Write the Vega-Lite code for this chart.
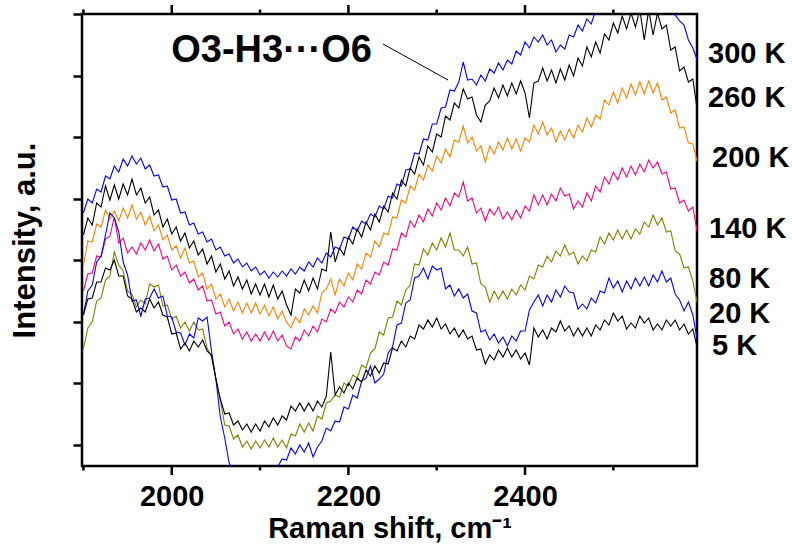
{
  "$schema": "https://vega.github.io/schema/vega-lite/v6.json",
  "width": 615,
  "height": 452,
  "autosize": {"type": "none"},
  "padding": {"left": 82, "top": 14, "right": 95, "bottom": 79},
  "background": "white",
  "config": {
    "view": {"stroke": "black", "strokeWidth": 2.5},
    "font": "Liberation Sans"
  },
  "datasets": {
    "spectra": [
      {"x":1900,"k300":252,"k260":230,"k200":200,"k140":174,"k80":116,"k20":150,"k5":150},
      {"x":1905,"k300":266,"k260":247,"k200":224,"k140":191,"k80":137,"k20":174,"k5":166},
      {"x":1910,"k300":262,"k260":240,"k200":223,"k140":192,"k80":143,"k20":180,"k5":167},
      {"x":1915,"k300":276,"k260":262,"k200":241,"k140":209,"k80":164,"k20":203,"k5":183},
      {"x":1920,"k300":273,"k260":258,"k200":238,"k140":208,"k80":167,"k20":209,"k5":183},
      {"x":1925,"k300":289,"k260":279,"k200":255,"k140":226,"k80":185,"k20":230,"k5":197},
      {"x":1930,"k300":286,"k260":265,"k200":246,"k140":229,"k80":189,"k20":252,"k5":195},
      {"x":1935,"k300":299,"k260":280,"k200":254,"k140":248,"k80":213,"k20":247,"k5":205},
      {"x":1940,"k300":293,"k260":266,"k200":244,"k140":222,"k80":200,"k20":233,"k5":189},
      {"x":1945,"k300":306,"k260":281,"k200":257,"k140":227,"k80":194,"k20":203,"k5":189},
      {"x":1950,"k300":299,"k260":270,"k200":247,"k140":212,"k80":174,"k20":190,"k5":169},
      {"x":1955,"k300":309,"k260":286,"k200":260,"k140":218,"k80":171,"k20":164,"k5":166},
      {"x":1960,"k300":301,"k260":270,"k200":246,"k140":211,"k80":158,"k20":165,"k5":153},
      {"x":1965,"k300":307,"k260":277,"k200":253,"k140":222,"k80":165,"k20":149,"k5":157},
      {"x":1970,"k300":296,"k260":262,"k200":240,"k140":215,"k80":161,"k20":166,"k5":153},
      {"x":1975,"k300":300,"k260":268,"k200":249,"k140":225,"k80":181,"k20":167,"k5":166},
      {"x":1980,"k300":289,"k260":250,"k200":234,"k140":214,"k80":178,"k20":176,"k5":157},
      {"x":1985,"k300":290,"k260":255,"k200":240,"k140":221,"k80":180,"k20":167,"k5":163},
      {"x":1990,"k300":278,"k260":238,"k200":225,"k140":206,"k80":159,"k20":169,"k5":150},
      {"x":1995,"k300":279,"k260":246,"k200":230,"k140":209,"k80":160,"k20":149,"k5":148},
      {"x":2000,"k300":265,"k260":231,"k200":215,"k140":195,"k80":146,"k20":148,"k5":131},
      {"x":2005,"k300":266,"k260":238,"k200":219,"k140":200,"k80":149,"k20":133,"k5":132},
      {"x":2010,"k300":252,"k260":224,"k200":207,"k140":189,"k80":137,"k20":132,"k5":116},
      {"x":2015,"k300":253,"k260":232,"k200":217,"k140":193,"k80":143,"k20":120,"k5":122},
      {"x":2020,"k300":240,"k260":217,"k200":202,"k140":182,"k80":134,"k20":131,"k5":114},
      {"x":2025,"k300":242,"k260":224,"k200":204,"k140":186,"k80":143,"k20":127,"k5":124},
      {"x":2030,"k300":231,"k260":210,"k200":188,"k140":175,"k80":135,"k20":147,"k5":118},
      {"x":2035,"k300":233,"k260":216,"k200":192,"k140":179,"k80":136,"k20":144,"k5":125},
      {"x":2040,"k300":223,"k260":201,"k200":176,"k140":164,"k80":117,"k20":148,"k5":114},
      {"x":2045,"k300":226,"k260":209,"k200":181,"k140":165,"k80":108,"k20":114,"k5":110},
      {"x":2050,"k300":215,"k260":193,"k200":166,"k140":151,"k80":86,"k20":86,"k5":86},
      {"x":2055,"k300":218,"k260":201,"k200":171,"k140":153,"k80":65,"k20":48,"k5":66},
      {"x":2060,"k300":209,"k260":186,"k200":158,"k140":139,"k80":40,"k20":27,"k5":51},
      {"x":2065,"k300":211,"k260":194,"k200":166,"k140":143,"k80":39,"k20":2,"k5":52},
      {"x":2070,"k300":202,"k260":179,"k200":154,"k140":131,"k80":26,"k20":-8,"k5":40},
      {"x":2075,"k300":206,"k260":188,"k200":163,"k140":136,"k80":30,"k20":-15,"k5":44},
      {"x":2080,"k300":198,"k260":176,"k200":152,"k140":126,"k80":18,"k20":-18,"k5":35},
      {"x":2085,"k300":202,"k260":185,"k200":162,"k140":133,"k80":24,"k20":-20,"k5":41},
      {"x":2090,"k300":194,"k260":171,"k200":152,"k140":124,"k80":16,"k20":-22,"k5":33},
      {"x":2095,"k300":198,"k260":181,"k200":162,"k140":131,"k80":24,"k20":-21,"k5":41},
      {"x":2100,"k300":190,"k260":170,"k200":151,"k140":124,"k80":17,"k20":-21,"k5":34},
      {"x":2105,"k300":194,"k260":181,"k200":160,"k140":133,"k80":25,"k20":-20,"k5":44},
      {"x":2110,"k300":187,"k260":168,"k200":149,"k140":125,"k80":18,"k20":-20,"k5":38},
      {"x":2115,"k300":193,"k260":180,"k200":158,"k140":134,"k80":27,"k20":-10,"k5":47},
      {"x":2120,"k300":188,"k260":166,"k200":146,"k140":124,"k80":18,"k20":-2,"k5":40},
      {"x":2125,"k300":194,"k260":174,"k200":154,"k140":130,"k80":25,"k20":6,"k5":49},
      {"x":2130,"k300":189,"k260":160,"k200":143,"k140":119,"k80":17,"k20":5,"k5":45},
      {"x":2135,"k300":196,"k260":150,"k200":137,"k140":116,"k80":31,"k20":17,"k5":59},
      {"x":2140,"k300":191,"k260":176,"k200":148,"k140":128,"k80":29,"k20":11,"k5":54},
      {"x":2145,"k300":198,"k260":172,"k200":142,"k140":124,"k80":41,"k20":20,"k5":62},
      {"x":2150,"k300":194,"k260":185,"k200":156,"k140":135,"k80":33,"k20":13,"k5":54},
      {"x":2155,"k300":203,"k260":174,"k200":150,"k140":129,"k80":42,"k20":22,"k5":62},
      {"x":2160,"k300":198,"k260":187,"k200":159,"k140":139,"k80":34,"k20":8,"k5":54},
      {"x":2165,"k300":207,"k260":176,"k200":152,"k140":133,"k80":49,"k20":18,"k5":64},
      {"x":2170,"k300":202,"k260":196,"k200":172,"k140":146,"k80":46,"k20":24,"k5":58},
      {"x":2175,"k300":212,"k260":194,"k200":176,"k140":143,"k80":62,"k20":37,"k5":69},
      {"x":2180,"k300":208,"k260":233,"k200":186,"k140":156,"k80":64,"k20":34,"k5":113},
      {"x":2185,"k300":218,"k260":203,"k200":170,"k140":152,"k80":70,"k20":44,"k5":70},
      {"x":2190,"k300":216,"k260":217,"k200":186,"k140":163,"k80":68,"k20":43,"k5":78},
      {"x":2195,"k300":228,"k260":210,"k200":179,"k140":158,"k80":82,"k20":58,"k5":72},
      {"x":2200,"k300":226,"k260":228,"k200":192,"k140":168,"k80":79,"k20":56,"k5":82},
      {"x":2205,"k300":238,"k260":221,"k200":185,"k140":163,"k80":90,"k20":70,"k5":76},
      {"x":2210,"k300":234,"k260":236,"k200":201,"k140":175,"k80":87,"k20":67,"k5":87},
      {"x":2215,"k300":244,"k260":228,"k200":196,"k140":171,"k80":100,"k20":84,"k5":83},
      {"x":2220,"k300":241,"k260":243,"k200":212,"k140":185,"k80":97,"k20":87,"k5":95},
      {"x":2225,"k300":251,"k260":235,"k200":208,"k140":181,"k80":112,"k20":99,"k5":89},
      {"x":2230,"k300":248,"k260":251,"k200":224,"k140":193,"k80":116,"k20":82,"k5":99},
      {"x":2235,"k300":259,"k260":243,"k200":218,"k140":190,"k80":133,"k20":86,"k5":92},
      {"x":2240,"k300":256,"k260":259,"k200":232,"k140":203,"k80":130,"k20":91,"k5":102},
      {"x":2245,"k300":269,"k260":253,"k200":230,"k140":200,"k80":147,"k20":112,"k5":101},
      {"x":2250,"k300":267,"k260":272,"k200":248,"k140":216,"k80":148,"k20":118,"k5":117},
      {"x":2255,"k300":281,"k260":266,"k200":247,"k140":215,"k80":164,"k20":140,"k5":114},
      {"x":2260,"k300":279,"k260":285,"k200":265,"k140":232,"k80":160,"k20":142,"k5":124},
      {"x":2265,"k300":295,"k260":279,"k200":262,"k140":228,"k80":175,"k20":162,"k5":118},
      {"x":2270,"k300":296,"k260":297,"k200":279,"k140":244,"k80":180,"k20":165,"k5":129},
      {"x":2275,"k300":312,"k260":291,"k200":275,"k140":238,"k80":201,"k20":187,"k5":126},
      {"x":2280,"k300":311,"k260":308,"k200":291,"k140":250,"k80":200,"k20":189,"k5":140},
      {"x":2285,"k300":326,"k260":300,"k200":285,"k140":243,"k80":216,"k20":197,"k5":136},
      {"x":2290,"k300":325,"k260":319,"k200":300,"k140":256,"k80":210,"k20":186,"k5":145},
      {"x":2295,"k300":341,"k260":313,"k200":294,"k140":249,"k80":222,"k20":199,"k5":138},
      {"x":2300,"k300":341,"k260":331,"k200":309,"k140":262,"k80":215,"k20":195,"k5":147},
      {"x":2305,"k300":357,"k260":328,"k200":302,"k140":255,"k80":227,"k20":197,"k5":136},
      {"x":2310,"k300":358,"k260":349,"k200":316,"k140":267,"k80":218,"k20":176,"k5":141},
      {"x":2315,"k300":375,"k260":345,"k200":308,"k140":259,"k80":232,"k20":180,"k5":131},
      {"x":2320,"k300":374,"k260":362,"k200":325,"k140":272,"k80":215,"k20":169,"k5":137},
      {"x":2325,"k300":383,"k260":357,"k200":323,"k140":268,"k80":215,"k20":176,"k5":128},
      {"x":2330,"k300":403,"k260":376,"k200":339,"k140":283,"k80":209,"k20":167,"k5":135},
      {"x":2335,"k300":385,"k260":366,"k200":322,"k140":264,"k80":218,"k20":171,"k5":126},
      {"x":2340,"k300":386,"k260":368,"k200":328,"k140":267,"k80":201,"k20":154,"k5":129},
      {"x":2345,"k300":380,"k260":350,"k200":314,"k140":252,"k80":202,"k20":152,"k5":115},
      {"x":2350,"k300":390,"k260":343,"k200":319,"k140":257,"k80":181,"k20":133,"k5":116},
      {"x":2355,"k300":384,"k260":360,"k200":303,"k140":244,"k80":178,"k20":135,"k5":101},
      {"x":2360,"k300":396,"k260":364,"k200":319,"k140":256,"k80":163,"k20":125,"k5":110},
      {"x":2365,"k300":392,"k260":377,"k200":311,"k140":250,"k80":174,"k20":131,"k5":105},
      {"x":2370,"k300":402,"k260":367,"k200":323,"k140":258,"k80":166,"k20":122,"k5":115},
      {"x":2375,"k300":395,"k260":380,"k200":315,"k140":246,"k80":174,"k20":128,"k5":108},
      {"x":2380,"k300":405,"k260":369,"k200":327,"k140":253,"k80":166,"k20":119,"k5":117},
      {"x":2385,"k300":401,"k260":382,"k200":316,"k140":245,"k80":176,"k20":129,"k5":108},
      {"x":2390,"k300":414,"k260":371,"k200":326,"k140":255,"k80":170,"k20":124,"k5":115},
      {"x":2395,"k300":410,"k260":384,"k200":314,"k140":247,"k80":180,"k20":134,"k5":106},
      {"x":2400,"k300":423,"k260":372,"k200":327,"k140":259,"k80":175,"k20":134,"k5":112},
      {"x":2405,"k300":417,"k260":347,"k200":323,"k140":254,"k80":189,"k20":155,"k5":100},
      {"x":2410,"k300":428,"k260":382,"k200":340,"k140":270,"k80":186,"k20":163,"k5":137},
      {"x":2415,"k300":423,"k260":384,"k200":331,"k140":260,"k80":200,"k20":170,"k5":128},
      {"x":2420,"k300":430,"k260":397,"k200":343,"k140":270,"k80":198,"k20":159,"k5":135},
      {"x":2425,"k300":420,"k260":384,"k200":330,"k140":260,"k80":209,"k20":170,"k5":126},
      {"x":2430,"k300":425,"k260":395,"k200":337,"k140":271,"k80":203,"k20":163,"k5":137},
      {"x":2435,"k300":413,"k260":382,"k200":323,"k140":264,"k80":214,"k20":175,"k5":133},
      {"x":2440,"k300":420,"k260":396,"k200":334,"k140":277,"k80":209,"k20":168,"k5":144},
      {"x":2445,"k300":416,"k260":385,"k200":325,"k140":269,"k80":220,"k20":179,"k5":134},
      {"x":2450,"k300":430,"k260":400,"k200":336,"k140":271,"k80":210,"k20":173,"k5":139},
      {"x":2455,"k300":428,"k260":389,"k200":327,"k140":256,"k80":213,"k20":172,"k5":129},
      {"x":2460,"k300":440,"k260":407,"k200":340,"k140":264,"k80":201,"k20":156,"k5":137},
      {"x":2465,"k300":434,"k260":399,"k200":333,"k140":258,"k80":209,"k20":161,"k5":129},
      {"x":2470,"k300":446,"k260":418,"k200":347,"k140":272,"k80":204,"k20":156,"k5":137},
      {"x":2475,"k300":441,"k260":408,"k200":338,"k140":264,"k80":215,"k20":167,"k5":129},
      {"x":2480,"k300":455,"k260":423,"k200":350,"k140":279,"k80":213,"k20":162,"k5":140},
      {"x":2485,"k300":451,"k260":412,"k200":346,"k140":273,"k80":228,"k20":174,"k5":135},
      {"x":2490,"k300":464,"k260":431,"k200":365,"k140":288,"k80":221,"k20":172,"k5":145},
      {"x":2495,"k300":466,"k260":425,"k200":360,"k140":281,"k80":232,"k20":187,"k5":140},
      {"x":2500,"k300":470,"k260":442,"k200":373,"k140":293,"k80":225,"k20":177,"k5":152},
      {"x":2505,"k300":473,"k260":432,"k200":362,"k140":285,"k80":235,"k20":184,"k5":144},
      {"x":2510,"k300":476,"k260":449,"k200":377,"k140":297,"k80":226,"k20":173,"k5":149},
      {"x":2515,"k300":479,"k260":436,"k200":367,"k140":288,"k80":235,"k20":184,"k5":136},
      {"x":2520,"k300":480,"k260":452,"k200":381,"k140":299,"k80":226,"k20":176,"k5":142},
      {"x":2525,"k300":481,"k260":438,"k200":370,"k140":290,"k80":236,"k20":187,"k5":137},
      {"x":2530,"k300":480,"k260":455,"k200":383,"k140":301,"k80":231,"k20":179,"k5":149},
      {"x":2535,"k300":479,"k260":425,"k200":371,"k140":293,"k80":243,"k20":188,"k5":142},
      {"x":2540,"k300":478,"k260":455,"k200":384,"k140":305,"k80":238,"k20":179,"k5":147},
      {"x":2545,"k300":475,"k260":430,"k200":372,"k140":297,"k80":250,"k20":190,"k5":135},
      {"x":2550,"k300":472,"k260":452,"k200":382,"k140":303,"k80":240,"k20":183,"k5":141},
      {"x":2555,"k300":468,"k260":436,"k200":365,"k140":291,"k80":247,"k20":194,"k5":135},
      {"x":2560,"k300":465,"k260":440,"k200":368,"k140":293,"k80":233,"k20":183,"k5":145},
      {"x":2565,"k300":453,"k260":415,"k200":352,"k140":276,"k80":234,"k20":187,"k5":139},
      {"x":2570,"k300":450,"k260":418,"k200":355,"k140":277,"k80":214,"k20":171,"k5":145},
      {"x":2575,"k300":444,"k260":394,"k200":337,"k140":262,"k80":211,"k20":165,"k5":135},
      {"x":2580,"k300":440,"k260":398,"k200":338,"k140":265,"k80":197,"k20":154,"k5":141},
      {"x":2585,"k300":425,"k260":383,"k200":322,"k140":254,"k80":198,"k20":163,"k5":131},
      {"x":2590,"k300":417,"k260":386,"k200":321,"k140":258,"k80":184,"k20":150,"k5":136},
      {"x":2595,"k300":405,"k260":355,"k200":303,"k140":233,"k80":162,"k20":125,"k5":117}
    ],
    "tags": [
      {"x": 2607.2, "h": 402, "t": "300 K"},
      {"x": 2607.2, "h": 358, "t": "260 K"},
      {"x": 2611.7, "h": 298, "t": "200 K"},
      {"x": 2608.3, "h": 227, "t": "140 K"},
      {"x": 2608.3, "h": 177, "t": "80 K"},
      {"x": 2608.3, "h": 142, "t": "20 K"},
      {"x": 2611.7, "h": 110, "t": "5 K"}
    ],
    "pointer": [
      {"x": 2239.2, "h": 421, "x2": 2312.8, "h2": 385}
    ],
    "caption": [
      {"x": 2113, "h": 403.5, "t": "O3-H3···O6"}
    ],
    "major": [{"x": 2000}, {"x": 2200}, {"x": 2400}],
    "minor": [{"x": 1900}, {"x": 2100}, {"x": 2300}, {"x": 2500}]
  },
  "layer": [
    {
      "data": {"name": "spectra"},
      "transform": [
        {"fold": ["k300", "k260", "k200", "k140", "k80", "k20", "k5"], "as": ["series", "h"]}
      ],
      "mark": {"type": "line", "strokeWidth": 1.1, "clip": true},
      "encoding": {
        "x": {
          "field": "x",
          "type": "quantitative",
          "scale": {"domain": [1898.4, 2594.7], "nice": false, "zero": false},
          "axis": {
            "orient": "bottom",
            "values": [2000, 2200, 2400],
            "format": "d",
            "grid": false,
            "domain": false,
            "ticks": false,
            "labelFont": "Liberation Sans",
            "labelFontSize": 29,
            "labelFontWeight": "bold",
            "labelColor": "black",
            "labelPadding": 16,
            "labelFlush": false,
            "labelOverlap": false,
            "title": "Raman shift, cm⁻¹",
            "titleFont": "Liberation Sans",
            "titleFontSize": 29,
            "titleFontWeight": "bold",
            "titleColor": "black",
            "titlePadding": 3
          }
        },
        "y": {
          "field": "h",
          "type": "quantitative",
          "scale": {"domain": [-1, 451], "nice": false, "zero": false},
          "axis": {
            "orient": "left",
            "values": [20, 81.6, 143.1, 204.7, 266.3, 327.9, 389.4, 451],
            "labels": false,
            "grid": false,
            "domain": false,
            "ticks": true,
            "tickColor": "black",
            "tickWidth": 2.5,
            "tickSize": 9,
            "title": "Intensity, a.u.",
            "titleFont": "Liberation Sans",
            "titleFontSize": 31,
            "titleFontWeight": "bold",
            "titleColor": "black",
            "titlePadding": 30
          }
        },
        "color": {
          "field": "series",
          "type": "nominal",
          "scale": {
            "domain": ["k300", "k260", "k200", "k140", "k80", "k20", "k5"],
            "range": ["#0000FF", "#000000", "#FF8000", "#FF0080", "#808000", "#0000FF", "#000000"]
          },
          "legend": null
        }
      }
    },
    {
      "data": {"name": "major"},
      "mark": {"type": "rule", "color": "black", "strokeWidth": 2.5},
      "encoding": {
        "x": {"field": "x", "type": "quantitative"},
        "y": {"datum": -1, "type": "quantitative"},
        "y2": {"datum": -10}
      }
    },
    {
      "data": {"name": "minor"},
      "mark": {"type": "rule", "color": "black", "strokeWidth": 2.5},
      "encoding": {
        "x": {"field": "x", "type": "quantitative"},
        "y": {"datum": -1, "type": "quantitative"},
        "y2": {"datum": -5.5}
      }
    },
    {
      "data": {"name": "major"},
      "mark": {"type": "rule", "color": "black", "strokeWidth": 2.5},
      "encoding": {
        "x": {"field": "x", "type": "quantitative"},
        "y": {"datum": 451, "type": "quantitative"},
        "y2": {"datum": 460}
      }
    },
    {
      "data": {"name": "minor"},
      "mark": {"type": "rule", "color": "black", "strokeWidth": 2.5},
      "encoding": {
        "x": {"field": "x", "type": "quantitative"},
        "y": {"datum": 451, "type": "quantitative"},
        "y2": {"datum": 455.5}
      }
    },
    {
      "data": {"name": "pointer"},
      "mark": {"type": "rule", "color": "black", "strokeWidth": 1},
      "encoding": {
        "x": {"field": "x", "type": "quantitative"},
        "x2": {"field": "x2"},
        "y": {"field": "h", "type": "quantitative"},
        "y2": {"field": "h2"}
      }
    },
    {
      "data": {"name": "caption"},
      "mark": {"type": "text", "align": "center", "baseline": "alphabetic", "font": "Liberation Sans", "fontSize": 38, "fontWeight": "bold", "color": "black"},
      "encoding": {
        "x": {"field": "x", "type": "quantitative"},
        "y": {"field": "h", "type": "quantitative"},
        "text": {"field": "t"}
      }
    },
    {
      "data": {"name": "tags"},
      "mark": {"type": "text", "align": "left", "baseline": "alphabetic", "font": "Liberation Sans", "fontSize": 29, "fontWeight": "bold", "color": "black"},
      "encoding": {
        "x": {"field": "x", "type": "quantitative"},
        "y": {"field": "h", "type": "quantitative"},
        "text": {"field": "t"}
      }
    }
  ]
}
